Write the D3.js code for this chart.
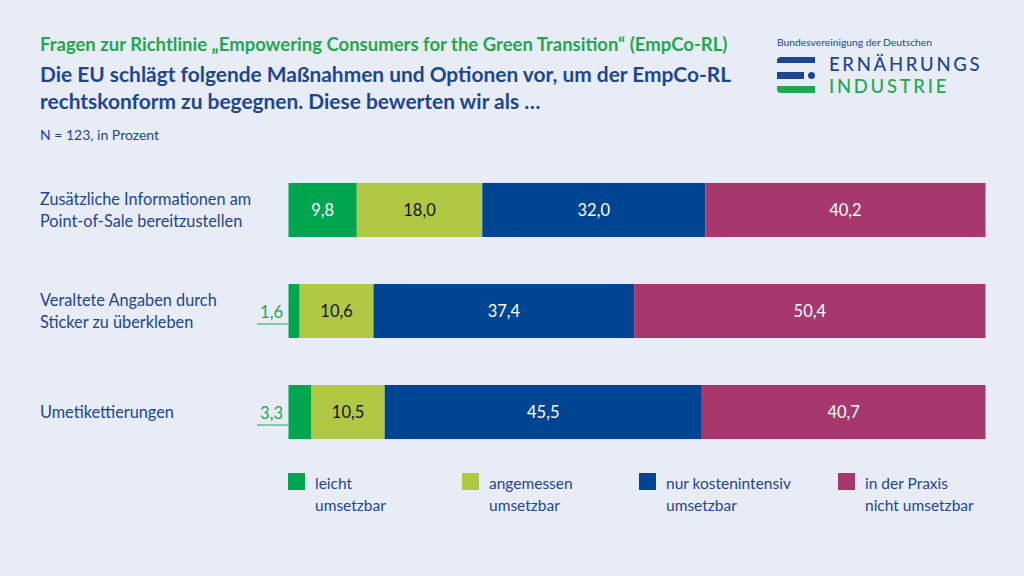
<!DOCTYPE html>
<html><head><meta charset="utf-8">
<script src="https://cdn.jsdelivr.net/npm/d3@7/dist/d3.min.js"></script>
<style>
html,body{margin:0;padding:0;background:#e8ecf6;}
svg{display:block;}
text{font-family:"Lato","Noto Sans",sans-serif;}
</style></head><body>
<svg id="c" width="1024" height="576"></svg>
<script>
const categories = [
  ["Zusätzliche Informationen am", "Point-of-Sale bereitzustellen"],
  ["Veraltete Angaben durch", "Sticker zu überkleben"],
  ["Umetikettierungen"]
];
const seriesNames = [
  ["leicht", "umsetzbar"],
  ["angemessen", "umsetzbar"],
  ["nur kostenintensiv", "umsetzbar"],
  ["in der Praxis", "nicht umsetzbar"]
];
const leicht = [9.8, 1.6, 3.3];
const angemessen = [18.0, 10.6, 10.5];
const kostenintensiv = [32.0, 37.4, 45.5];
const nichtUmsetzbar = [40.2, 50.4, 40.7];
const series = [leicht, angemessen, kostenintensiv, nichtUmsetzbar];
const colors = ["#00a54f", "#b1c844", "#004494", "#a6386d"];
const labelColors = ["#ffffff", "#111111", "#ffffff", "#ffffff"];

const svg = d3.select("#c");
const darkBlue = "#1d4690";
const green = "#1fa84f";

// Titles
svg.append("text").attr("x", 40).attr("y", 51).attr("fill", green)
  .attr("font-size", 18.5).attr("font-weight", 700)
  .text("Fragen zur Richtlinie „Empowering Consumers for the Green Transition“ (EmpCo-RL)");
svg.append("text").attr("x", 40).attr("y", 82).attr("fill", darkBlue)
  .attr("font-size", 20.9).attr("font-weight", 700)
  .text("Die EU schlägt folgende Maßnahmen und Optionen vor, um der EmpCo-RL");
svg.append("text").attr("x", 40).attr("y", 109).attr("fill", darkBlue)
  .attr("font-size", 20.9).attr("font-weight", 700)
  .text("rechtskonform zu begegnen. Diese bewerten wir als …");
svg.append("text").attr("x", 40).attr("y", 140).attr("fill", darkBlue)
  .attr("font-size", 14)
  .text("N = 123, in Prozent");

// Logo
const logo = svg.append("g");
logo.append("text").attr("x", 777).attr("y", 46).attr("fill", darkBlue)
  .attr("font-size", 10.3).text("Bundesvereinigung der Deutschen");
logo.append("path").attr("fill", darkBlue)
  .attr("d", "M815,57 L781,57 Q777,57 777,61 L777,63 L815,63 Z");
logo.append("rect").attr("x", 777).attr("y", 72).attr("width", 27).attr("height", 7).attr("fill", darkBlue);
logo.append("rect").attr("x", 808).attr("y", 72).attr("width", 7).attr("height", 7).attr("rx", 3.5).attr("fill", darkBlue);
logo.append("path").attr("fill", green)
  .attr("d", "M777,86 L815,86 L815,93 L781,93 Q777,93 777,89 Z");
logo.append("text").attr("x", 829).attr("y", 70.5).attr("fill", darkBlue)
  .attr("font-size", 18.5).attr("font-weight", 500).attr("letter-spacing", 2.7)
  .text("ERNÄHRUNGS");
logo.append("text").attr("x", 829).attr("y", 92.5).attr("fill", green)
  .attr("font-size", 18.5).attr("font-weight", 500).attr("letter-spacing", 2.7)
  .text("INDUSTRIE");

// Scales
const x = d3.scaleLinear().domain([0, 100]).range([288.5, 985.5]);
const y = d3.scaleBand().domain(d3.range(categories.length)).range([159.5, 462.5]).paddingInner(0.465).paddingOuter(0.232);

const stackData = categories.map((c, i) => {
  const o = {i};
  series.forEach((s, k) => o["s" + k] = s[i]);
  return o;
});
const stack = d3.stack().keys(series.map((s, k) => "s" + k))(stackData);

stack.forEach((layer, k) => {
  const g = svg.append("g");
  g.selectAll("rect").data(layer).enter().append("rect")
    .attr("x", d => x(d[0]))
    .attr("y", (d, i) => y(i))
    .attr("width", d => x(d[1]) - x(d[0]))
    .attr("height", y.bandwidth())
    .attr("fill", colors[k]);
  g.selectAll("text").data(layer).enter().append("text")
    .filter(d => (d[1] - d[0]) >= 5)
    .attr("x", d => (x(d[0]) + x(d[1])) / 2)
    .attr("y", (d, i) => y(d.data.i) + y.bandwidth() / 2 + 6)
    .attr("text-anchor", "middle")
    .attr("font-size", 16.5)
    .attr("fill", labelColors[k])
    .text(d => d3.format(".1f")(d[1] - d[0]).replace(".", ","));
});

// Small outside labels
categories.forEach((c, i) => {
  const v = leicht[i];
  if (v < 5) {
    const cy = y(i) + y.bandwidth() / 2;
    svg.append("text").attr("x", 283).attr("y", cy + 7)
      .attr("text-anchor", "end").attr("font-size", 16.5).attr("fill", green)
      .text(d3.format(".1f")(v).replace(".", ","));
    svg.append("line").attr("x1", 257).attr("x2", x(0))
      .attr("y1", cy + 13).attr("y2", cy + 13)
      .attr("stroke", green).attr("stroke-width", 1);
  }
});

// Category labels
categories.forEach((lines, i) => {
  const cy = y(i) + y.bandwidth() / 2;
  const t = svg.append("text").attr("x", 40).attr("fill", darkBlue).attr("font-size", 16.3);
  const n = lines.length;
  lines.forEach((l, j) => {
    t.append("tspan").attr("x", 40).attr("y", cy + 6 + (j - (n - 1) / 2) * 22).text(l);
  });
});

// Legend
const legendX = [288, 462, 639, 838];
seriesNames.forEach((lines, k) => {
  const g = svg.append("g").attr("transform", `translate(${legendX[k]},0)`);
  g.append("rect").attr("x", 0).attr("y", 473).attr("width", 17).attr("height", 17).attr("fill", colors[k]);
  lines.forEach((l, j) => {
    g.append("text").attr("x", 27).attr("y", 489 + j * 21.5).attr("fill", darkBlue)
      .attr("font-size", 15.5).text(l);
  });
});
</script>
</body></html>
